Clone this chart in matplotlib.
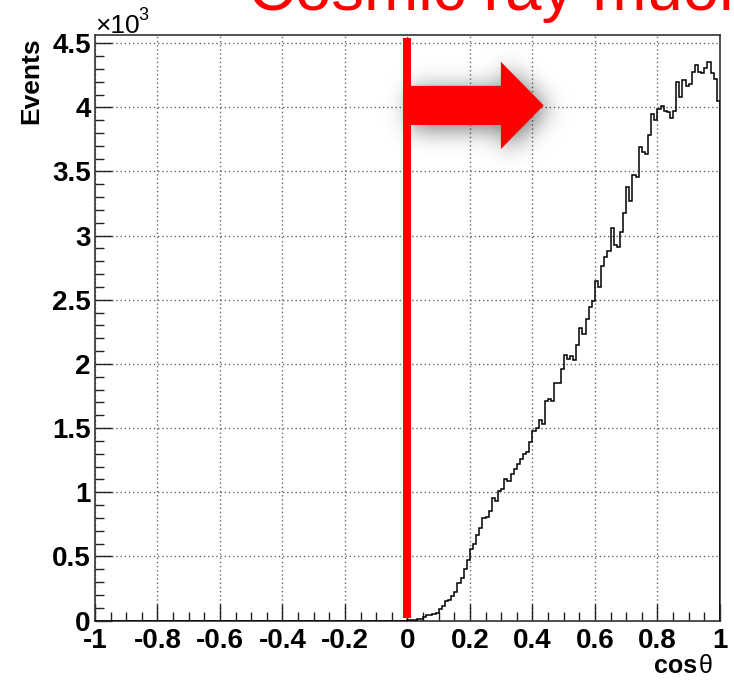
"""
cos(theta) distribution of reconstructed cosmic-ray muons,
with the accepted (upward) region marked by a red cut line and arrow.
"""
import numpy as np
import matplotlib
matplotlib.use('Agg')
import matplotlib.pyplot as plt
from matplotlib.patches import Polygon
from matplotlib.path import Path
from matplotlib.ticker import MultipleLocator, FuncFormatter

plt.rcParams['font.family'] = ['Liberation Sans', 'DejaVu Sans']
plt.rcParams['font.weight'] = 'bold'

# 200 bins of width 0.01 over cos(theta) in [-1, 1]
bin_edges = np.linspace(-1.0, 1.0, 201)

# downward-going half: essentially empty
counts_negative = [0] * 100

# upward-going half, cos(theta) = 0.00 ... 0.99
counts_positive = [
    3, 4, 6, 10, 14, 30, 40, 45, 50, 60,
    90, 110, 150, 160, 190, 220, 290, 330, 400, 470,
    560, 600, 670, 720, 800, 810, 850, 955, 930, 1006,
    1025, 1100, 1085, 1140, 1180, 1220, 1260, 1300, 1310, 1390,
    1480, 1500, 1560, 1530, 1710, 1730, 1710, 1850, 1850, 1960,
    2070, 2040, 2060, 2030, 2150, 2280, 2235, 2350, 2440, 2490,
    2650, 2600, 2760, 2830, 2880, 3060, 2930, 2910, 3030, 3180,
    3380, 3270, 3470, 3460, 3690, 3650, 3640, 3785, 3950, 3900,
    3990, 4010, 3975, 3960, 3915, 3975, 4200, 4080, 4210, 4170,
    4180, 4275, 4330, 4275, 4270, 4310, 4350, 4270, 4220, 4050,
]
counts = np.array(counts_negative + counts_positive, dtype=float)

cut_value = 0.0
y_top = 1.05 * counts.max()

fig = plt.figure(figsize=(7.34, 6.81), dpi=100)
ax = fig.add_axes([0.1294, 0.0888, 0.8515, 0.8605])

# histogram outline
ax.stairs(counts, bin_edges, color='black', linewidth=1.1, zorder=3)

ax.set_xlim(-1, 1)
ax.set_ylim(0, y_top)

# ROOT-like axes: inward ticks on left/bottom, dotted grid at the majors
ax.xaxis.set_major_locator(MultipleLocator(0.2))
ax.xaxis.set_minor_locator(MultipleLocator(0.05))
ax.yaxis.set_major_locator(MultipleLocator(500))
ax.yaxis.set_minor_locator(MultipleLocator(100))
ax.xaxis.set_major_formatter(FuncFormatter(lambda v, _: f'{round(v, 6) + 0.0:g}'))
ax.yaxis.set_major_formatter(FuncFormatter(lambda v, _: f'{v / 1000:g}'))
ax.tick_params(which='both', direction='in', top=False, right=False,
               width=1.0, color='#222222')
ax.tick_params(which='major', length=12.5)
ax.tick_params(which='minor', length=6.2)
ax.tick_params(axis='x', which='major', labelsize=20, pad=5.5)
ax.tick_params(axis='y', which='major', labelsize=20, pad=3)
ax.grid(True, which='major', color='#666666', linestyle=(0, (1, 2)), linewidth=1.0)
ax.set_axisbelow(True)
for side in ax.spines.values():
    side.set_color('#333333')
    side.set_linewidth(1.2)

# cut line at cos(theta) = 0
ax.axvline(cut_value, ymin=0.004, ymax=0.994, color='red', linewidth=5.8,
           solid_capstyle='butt', zorder=5)

# arrow pointing into the selected region
arrow_y = 4015
arrow_len = 0.436
shaft_w = 305
head_w = 680
head_len = 0.137


def arrow_outline(x0, y0, length, sw, hw, hl):
    xs = x0 + length - hl
    return np.array([
        [x0, y0 - sw / 2], [xs, y0 - sw / 2], [xs, y0 - hw / 2],
        [x0 + length, y0], [xs, y0 + hw / 2], [xs, y0 + sw / 2],
        [x0, y0 + sw / 2],
    ])


outline = arrow_outline(cut_value, arrow_y, arrow_len, shaft_w, head_w, head_len)
ax.add_patch(Polygon(outline, closed=True, facecolor='red', edgecolor='none', zorder=4))

# soft drop shadow under the arrow
px_x = ax.bbox.width / 2.0
px_y = ax.bbox.height / y_top
gx0, gx1 = -0.35, 0.80
gy0, gy1 = 2900, 5100
nx = int((gx1 - gx0) * px_x)
ny = int((gy1 - gy0) * px_y)
xx, yy = np.meshgrid(np.linspace(gx0, gx1, nx), np.linspace(gy0, gy1, ny))
inside = Path(outline).contains_points(np.c_[xx.ravel(), yy.ravel()])
mask = inside.reshape(ny, nx).astype(float)
sigma = 12.0
kern = np.exp(-0.5 * (np.arange(-40, 41) / sigma) ** 2)
kern /= kern.sum()
mask = np.apply_along_axis(lambda r: np.convolve(r, kern, mode='same'), 1, mask)
mask = np.apply_along_axis(lambda c: np.convolve(c, kern, mode='same'), 0, mask)
shade = np.zeros((ny, nx, 4))
shade[..., 3] = 0.55 * mask
dx, dy = 4 / px_x, 4 / px_y
ax.imshow(shade, extent=[gx0 + dx, gx1 + dx, gy0 - dy, gy1 - dy], origin='lower',
          aspect='auto', interpolation='bilinear', zorder=2.5)
ax.set_xlim(-1, 1)
ax.set_ylim(0, y_top)

# axis titles and exponent
fig.text(31 / 734, 1 - 37 / 681, 'Events', rotation=90, ha='center', va='top', fontsize=19)
fig.text(697 / 734, 1 - 673 / 681, 'cos', ha='right', va='baseline', fontsize=18)
fig.text(699 / 734, 1 - 673 / 681, 'θ', ha='left', va='baseline', fontsize=18,
         fontweight='normal')
fig.text(95 / 734, 1 - 33 / 681, '×10', ha='left', va='baseline', fontsize=19,
         fontweight='normal')
fig.text(138 / 734, 1 - 20 / 681, '3', ha='left', va='baseline', fontsize=13,
         fontweight='normal')

fig.text(248 / 734, 1 - 10 / 681, 'Cosmic ray muons', ha='left', va='baseline',
         fontsize=47, fontweight='normal', color='red')

fig.savefig('out.png', dpi=100)
